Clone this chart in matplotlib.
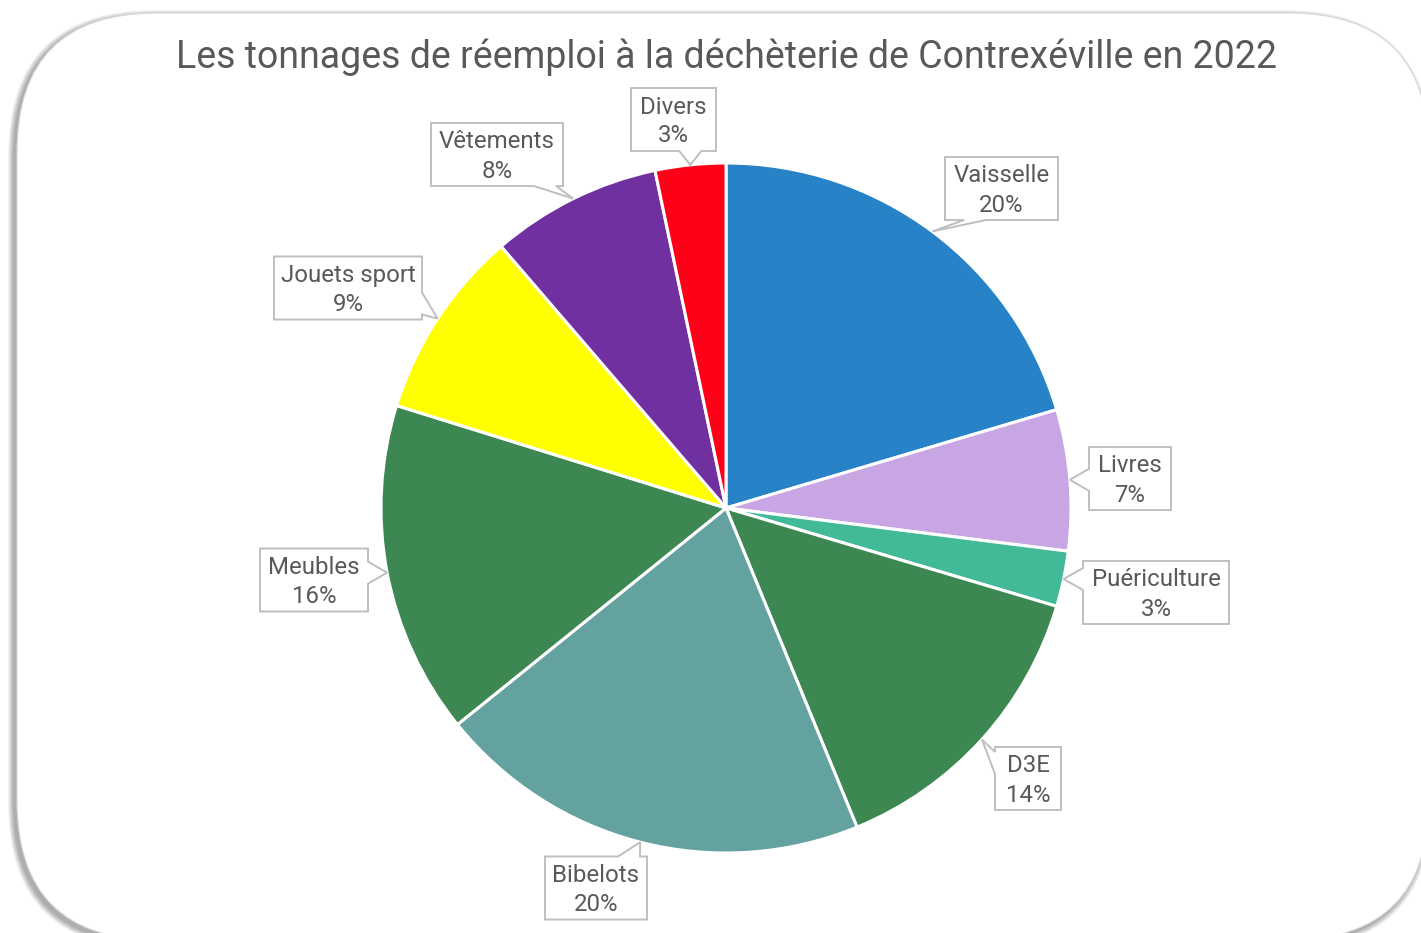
import matplotlib
matplotlib.use('Agg')
import matplotlib.pyplot as plt
from matplotlib.patches import FancyBboxPatch, Polygon
import numpy as np

# ---------------- data ----------------
categories = ['Vaisselle', 'Livres', 'Puériculture', 'D3E', 'Bibelots',
              'Meubles', 'Jouets sport', 'Vêtements', 'Divers']
shares = [20.4, 6.6, 2.6, 14.2, 20.4, 15.6, 8.9, 8.0, 3.3]
colors = ['#2782C7', '#C8A5E3', '#42BA97', '#3D8753', '#63A29E',
          '#3D8753', '#FFFF00', '#70309F', '#FF0019']
title = 'Les tonnages de réemploi à la déchèterie de Contrexéville en 2022'

# ---------------- layout (pixel coords, y down) ----------------
W, H = 1421, 933
pie_cx, pie_cy, pie_r = 726, 508, 345
box_h = 63
box_layout = {
    'Vaisselle': (1001.5, 188.5, 113, 'bottom'),
    'Livres': (1130, 478.5, 82, None),
    'Puériculture': (1156, 592.5, 146, None),
    'D3E': (1028, 778.5, 66, None),
    'Bibelots': (596, 888, 102, None),
    'Meubles': (314, 580, 108, None),
    'Jouets sport': (348, 288, 148, None),
    'Vêtements': (497, 154.5, 132, None),
    'Divers': (673.5, 119.5, 85, None),
}
text_color = '#595959'
font = 'Roboto'
label_fs = 17.3
title_fs = 27

fig = plt.figure(figsize=(W / 100, H / 100), dpi=100)
ax = fig.add_axes([0, 0, 1, 1])


def Y(y):
    return H - y


# frame with shadow
fx0, fy0, fx1, fy1, rad = 17, 13, 1429, 940, 140
for i in range(10, 0, -1):
    sh = FancyBboxPatch((fx0 - 3 - i * 0.6, Y(fy1) - 3 - i * 0.6),
                        fx1 - fx0 + i * 1.2, fy1 - fy0 + i * 1.2,
                        boxstyle=f'round,pad=0,rounding_size={rad + i * 0.6}',
                        facecolor='black', edgecolor='none', alpha=0.035,
                        zorder=0)
    ax.add_patch(sh)
frame = FancyBboxPatch((fx0, Y(fy1)), fx1 - fx0, fy1 - fy0,
                       boxstyle=f'round,pad=0,rounding_size={rad}',
                       facecolor='white', edgecolor='#D9D9D9', linewidth=0.8,
                       zorder=1)
ax.add_patch(frame)

wedges, _ = ax.pie(shares, colors=colors, startangle=90, counterclock=False,
                   center=(pie_cx, Y(pie_cy)), radius=pie_r,
                   wedgeprops=dict(edgecolor='white', linewidth=2.2, zorder=2),
                   frame=True)

total = sum(shares)
for wdg, cat, val in zip(wedges, categories, shares):
    mid = np.deg2rad((wdg.theta1 + wdg.theta2) / 2)
    tx = pie_cx + pie_r * np.cos(mid)
    ty = Y(pie_cy) + pie_r * np.sin(mid)
    bcx, bcy, bw, side = box_layout[cat]
    L, R = bcx - bw / 2, bcx + bw / 2
    T, B = Y(bcy - box_h / 2), Y(bcy + box_h / 2)
    dx_out = max(L - tx, tx - R, 0)
    dy_out = max(B - ty, ty - T, 0)
    if side is None:
        if dx_out > dy_out:
            side = 'right' if tx > R else 'left'
        else:
            side = 'bottom' if ty < B else 'top'
    pw = 22
    if side in ('left', 'right'):
        c = min(max(ty, B + 16), T - 16)
        if side == 'right':
            pts = [(L, B), (R, B), (R, c - pw / 2), (tx, ty), (R, c + pw / 2), (R, T), (L, T)]
        else:
            pts = [(L, B), (R, B), (R, T), (L, T), (L, c + pw / 2), (tx, ty), (L, c - pw / 2)]
    else:
        c = min(max(tx, L + 30), R - 18)
        if side == 'bottom':
            pts = [(L, B), (c - pw / 2, B), (tx, ty), (c + pw / 2, B), (R, B), (R, T), (L, T)]
        else:
            pts = [(L, B), (R, B), (R, T), (c + pw / 2, T), (tx, ty), (c - pw / 2, T), (L, T)]
    ax.add_patch(Polygon(pts, closed=True, facecolor='white', edgecolor='#BFBFBF',
                         linewidth=1.4, zorder=5, joinstyle='miter'))
    pct = f'{round(100 * val / total)}%'
    ax.text(bcx, Y(bcy - 6), cat, ha='center', va='baseline', fontsize=label_fs,
            color=text_color, family=font, zorder=6)
    ax.text(bcx, Y(bcy + 23), pct, ha='center', va='baseline', fontsize=label_fs,
            color=text_color, family=font, zorder=6)

ax.text(726, Y(68), title, ha='center', va='baseline', fontsize=title_fs,
        color=text_color, family=font, zorder=6)

ax.set_xlim(0, W)
ax.set_ylim(0, H)
ax.set_aspect('auto')
ax.axis('off')
fig.savefig('out.png', dpi=100, facecolor='white')
